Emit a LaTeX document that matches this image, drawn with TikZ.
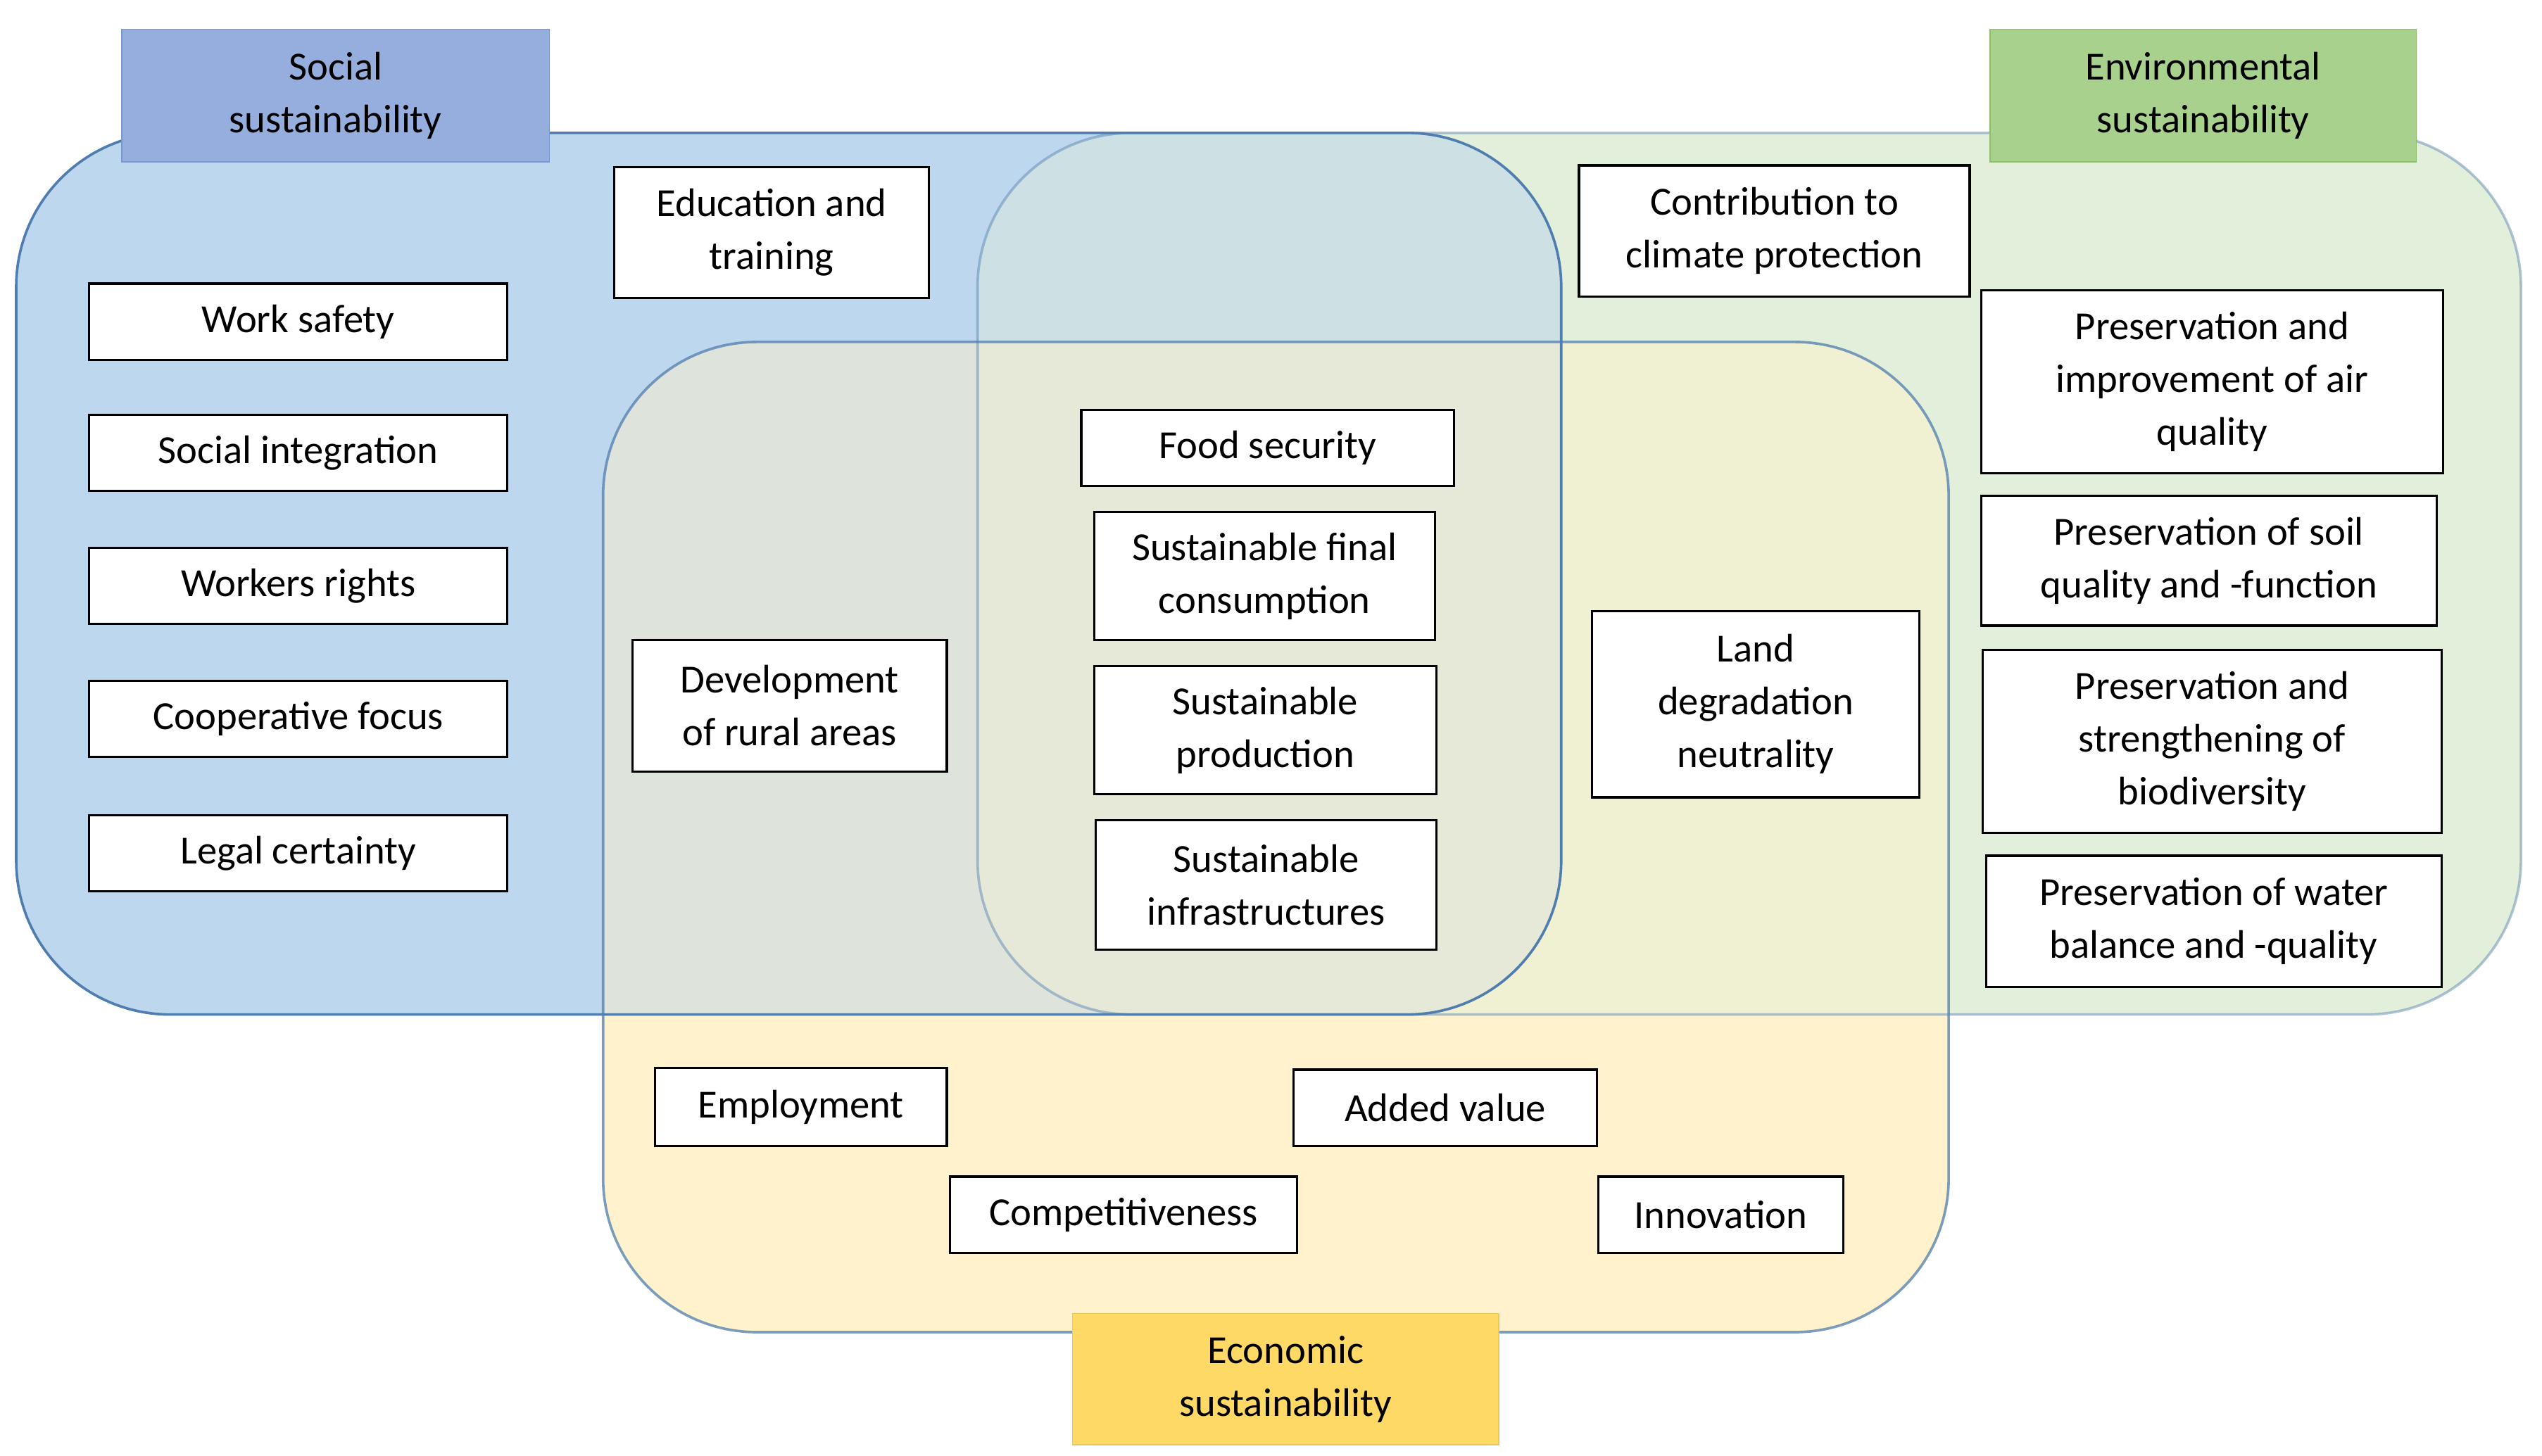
\documentclass[tikz,border=0pt]{standalone}
\usepackage{fontspec}
\setmainfont{Carlito}
\begin{document}
\begin{tikzpicture}[x=0.02cm,y=-0.02cm,
  bx/.style={draw=black,fill=white,line width=0.8pt,align=center,inner sep=0pt,font=\fontsize{14}{18.5}\selectfont},
  hdr/.style={align=center,inner sep=0pt,font=\fontsize{14}{18.5}\selectfont},
  reg/.style={draw={rgb,255:red,80;green,125;blue,175},line width=0.9pt,rounded corners=1.9cm}]
\useasboundingbox (0,0) rectangle (1568,898);
\newcommand{\bxx}[6]{\node[bx,minimum width={(#4-#2)*0.02cm},minimum height={(#5-#3)*0.02cm}] (#1) at ({(#2+#4)/2},{(#3+#5)/2}) {#6};}
\definecolor{cb}{RGB}{189,215,238}
\definecolor{cg}{RGB}{226,239,218}
\definecolor{cy}{RGB}{255,242,204}
\fill[cy,rounded corners=1.9cm] (372,211) rectangle (1202,822);
\fill[cg,rounded corners=1.9cm] (603,82) rectangle (1555,626);
\fill[cb,rounded corners=1.9cm] (10,82) rectangle (963,626);
\fill[cg,fill opacity=0.45,rounded corners=1.9cm] (603,82) rectangle (1555,626);
\fill[cy,fill opacity=0.5,rounded corners=1.9cm] (372,211) rectangle (1202,822);
\draw[reg] (10,82) rectangle (963,626);
\draw[reg,draw opacity=0.45] (603,82) rectangle (1555,626);
\draw[reg,draw opacity=0.75] (372,211) rectangle (1202,822);
\node[hdr,fill={rgb,255:red,150;green,174;blue,222},draw={rgb,255:red,120;green,150;blue,210},minimum width=5.28cm,minimum height=1.64cm] (soc) at (207,59) {Social\\sustainability};
\node[hdr,fill={rgb,255:red,169;green,209;blue,142},draw={rgb,255:red,140;green,190;blue,110},minimum width=5.26cm,minimum height=1.64cm] (env) at (1359,59) {Environmental\\sustainability};
\node[hdr,fill={rgb,255:red,255;green,217;blue,102},draw={rgb,255:red,240;green,200;blue,90},minimum width=5.26cm,minimum height=1.62cm] (eco) at (793,851) {Economic\\sustainability};
\bxx{edu}{379}{103}{573}{184}{Education and\\training}
\bxx{ws}{55}{175}{313}{222}{Work safety}
\bxx{si}{55}{256}{313}{303}{Social integration}
\bxx{wr}{55}{338}{313}{385}{Workers rights}
\bxx{cf}{55}{420}{313}{467}{Cooperative focus}
\bxx{lc}{55}{503}{313}{550}{Legal certainty}
\bxx{ccp}{974}{102}{1215}{183}{Contribution to\\climate protection}
\bxx{air}{1222}{179}{1507}{292}{Preservation and\\improvement of air\\quality}
\bxx{soil}{1222}{306}{1503}{386}{Preservation of soil\\quality and -function}
\bxx{bio}{1223}{401}{1506}{514}{Preservation and\\strengthening of\\biodiversity}
\bxx{wat}{1225}{528}{1506}{609}{Preservation of water\\balance and -quality}
\bxx{fs}{667}{253}{897}{300}{Food security}
\bxx{sfc}{675}{316}{885}{395}{Sustainable final\\consumption}
\bxx{sp}{675}{411}{886}{490}{Sustainable\\production}
\bxx{sinf}{676}{506}{886}{586}{Sustainable\\infrastructures}
\bxx{dra}{390}{395}{584}{476}{Development\\of rural areas}
\bxx{ldn}{982}{377}{1184}{492}{Land\\degradation\\neutrality}
\bxx{emp}{404}{659}{584}{707}{Employment}
\bxx{av}{798}{660}{985}{707}{Added value}
\bxx{comp}{586}{726}{800}{773}{Competitiveness}
\bxx{inn}{986}{726}{1137}{773}{Innovation}
\end{tikzpicture}
\end{document}
